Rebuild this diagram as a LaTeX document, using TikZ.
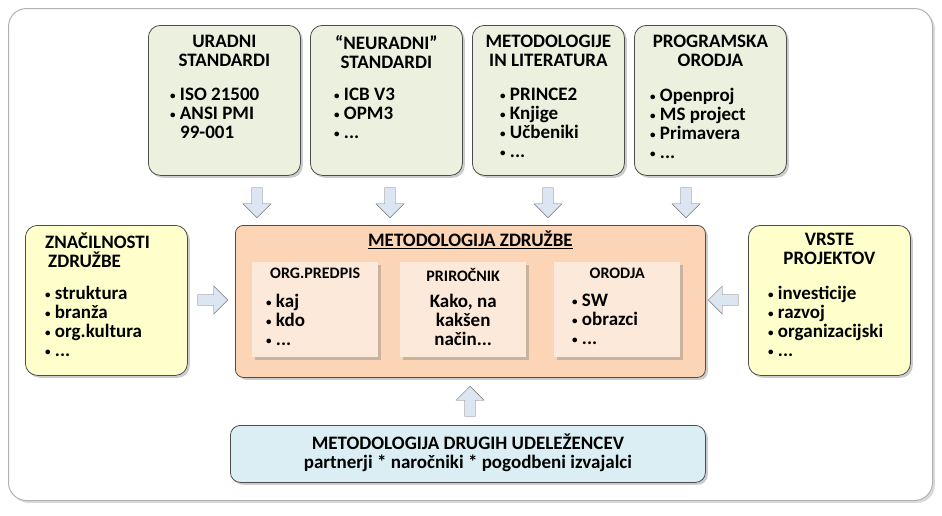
\documentclass[tikz,border=0pt]{standalone}
\usepackage{fontspec}
\setmainfont{Carlito}
\usetikzlibrary{positioning,shapes.arrows,shadows}
\definecolor{greenbox}{HTML}{EBF1DE}
\definecolor{yellowbox}{HTML}{FFFFCC}
\definecolor{peachbox}{HTML}{FBD5B5}
\definecolor{innerfill}{HTML}{FDE9D9}
\definecolor{bluebox}{HTML}{DAEEF3}
\definecolor{arrowfill}{HTML}{DCE6F2}
\newcommand{\bul}{{\fontsize{11}{11}\selectfont\raisebox{1.5pt}{•}}\ }
\tikzset{
  card/.style={draw=black!70,line width=0.8pt,rounded corners=12pt,drop shadow={opacity=0.4},
    minimum width=152pt,minimum height=150pt,anchor=north west,inner sep=0pt},
  txt/.style={font=\bfseries\fontsize{19}{19}\selectfont,align=left,anchor=north west,inner sep=0pt},
  ttl/.style={font=\bfseries\fontsize{19}{19}\selectfont,align=center,anchor=north,inner sep=0pt},
  innerbox/.style={draw=none,fill=innerfill,drop shadow={opacity=0.4},minimum width=126pt,
    minimum height=95pt,anchor=north west,inner sep=0pt},
  blockarrow/.style={single arrow,draw=black!55,fill=arrowfill,minimum height=30pt,
    minimum width=28pt,single arrow head extend=5pt,inner sep=3pt},
}
\begin{document}
\begin{tikzpicture}[x=1pt,y=-1pt]
\useasboundingbox (0,0) rectangle (942,515);
\node[draw=black!30,line width=1pt,rounded corners=18pt,fill=white,drop shadow={opacity=0.3},
  minimum width=924pt,minimum height=492pt,anchor=north west] (frame) at (8,8) {};

% top row
\node[card,fill=greenbox] (uradni) at (148,25) {};
\node[card,fill=greenbox] (neuradni) at (310,25) {};
\node[card,fill=greenbox] (literatura) at (472,25) {};
\node[card,fill=greenbox] (orodja) at (634,25) {};
\node[ttl] at ([yshift=-10pt]uradni.north) {URADNI\\STANDARDI};
\node[txt] at (170,88) {\bul ISO 21500\\\bul ANSI PMI\\\hspace*{10pt}99-001};
\node[ttl] at ([yshift=-10pt]neuradni.north) {“NEURADNI”\\STANDARDI};
\node[txt] at (334,88) {\bul ICB V3\\\bul OPM3\\\bul ...};
\node[ttl] at ([yshift=-10pt]literatura.north) {METODOLOGIJE\\IN LITERATURA};
\node[txt] at (500,88) {\bul PRINCE2\\\bul Knjige\\\bul Učbeniki\\\bul ...};
\node[ttl] at ([yshift=-10pt]orodja.north) {PROGRAMSKA\\ORODJA};
\node[txt] at (650,88) {\bul Openproj\\\bul MS project\\\bul Primavera\\\bul ...};

% middle row
\node[card,fill=yellowbox,minimum width=162pt] (znacilnosti) at (25,225) {};
\node[txt] at (45,233) {ZNAČILNOSTI\\\hspace*{3pt}ZDRUŽBE};
\node[txt] at (45,286) {\bul struktura\\\bul branža\\\bul org.kultura\\\bul ...};
\node[card,fill=yellowbox,minimum width=162pt] (vrste) at (748,225) {};
\node[ttl] at ([yshift=-8pt]vrste.north) {VRSTE\\PROJEKTOV};
\node[txt] at (768,286) {\bul investicije\\\bul razvoj\\\bul organizacijski\\\bul ...};
\node[card,fill=peachbox,minimum width=470pt,minimum height=152pt,rounded corners=8pt] (zdruzba) at (235,225) {};
\node[ttl] at ([yshift=-6pt]zdruzba.north) {\underline{METODOLOGIJA ZDRUŽBE}};
\node[innerbox] (predpis) at (252,262) {};
\node[innerbox] (prirocnik) at (400,262) {};
\node[innerbox] (orodjain) at (554,262) {};
\node[ttl,font=\bfseries\fontsize{16}{16}\selectfont] at ([yshift=-6pt]predpis.north) {ORG.PREDPIS};
\node[txt] at (266,294) {\bul kaj\\\bul kdo\\\bul ...};
\node[ttl,font=\bfseries\fontsize{16}{16}\selectfont] at ([yshift=-6pt]prirocnik.north) {PRIROČNIK};
\node[ttl,align=center] at ([yshift=-32pt]prirocnik.north) {Kako, na\\kakšen\\način...};
\node[ttl,font=\bfseries\fontsize{16}{16}\selectfont] at ([yshift=-6pt]orodjain.north) {ORODJA};
\node[txt] at (572,294) {\bul SW\\\bul obrazci\\\bul ...};

% bottom
\node[card,fill=bluebox,minimum width=475pt,minimum height=57pt,rounded corners=10pt] (drugi) at (230,425) {};
\node[ttl,align=center] at ([yshift=-9pt]drugi.north) {METODOLOGIJA DRUGIH UDELEŽENCEV\\partnerji * naročniki * pogodbeni izvajalci};

% arrows
\foreach \ax in {257,390,548,686}
  \node[blockarrow,shape border rotate=270] at (\ax,200) {};
\node[blockarrow] at (210,300) {};
\node[blockarrow,shape border rotate=180] at (726,300) {};
\node[blockarrow,shape border rotate=90] at (470,404) {};
\end{tikzpicture}
\end{document}
